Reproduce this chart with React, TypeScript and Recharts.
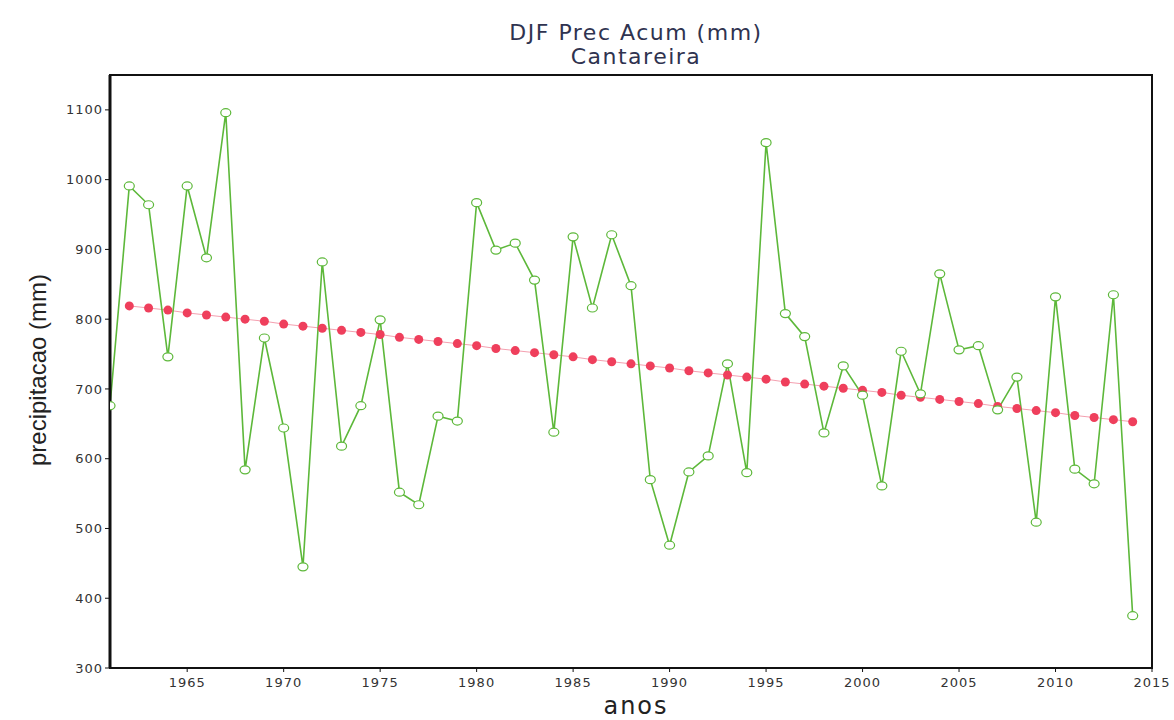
import { LineChart, Line, XAxis, YAxis, ReferenceArea } from "recharts";

const years = [
  1961, 1962, 1963, 1964, 1965, 1966, 1967, 1968, 1969, 1970,
  1971, 1972, 1973, 1974, 1975, 1976, 1977, 1978, 1979, 1980,
  1981, 1982, 1983, 1984, 1985, 1986, 1987, 1988, 1989, 1990,
  1991, 1992, 1993, 1994, 1995, 1996, 1997, 1998, 1999, 2000,
  2001, 2002, 2003, 2004, 2005, 2006, 2007, 2008, 2009, 2010,
  2011, 2012, 2013, 2014,
];

// DJF accumulated precipitation (mm)
const precip = [
  676, 991, 964, 746, 991, 888, 1096, 584, 773, 644,
  445, 882, 618, 676, 799, 552, 534, 661, 654, 967,
  899, 909, 856, 638, 918, 816, 921, 848, 570, 476,
  581, 604, 736, 580, 1053, 808, 775, 637, 733, 691,
  561, 754, 693, 865, 756, 762, 670, 717, 509, 832,
  585, 564, 835, 375,
];

// linear trend (no value for 1961)
const trend = [
  null, 819, 816, 813, 809, 806, 803, 800, 797, 793,
  790, 787, 784, 781, 778, 774, 771, 768, 765, 762,
  758, 755, 752, 749, 746, 742, 739, 736, 733, 730,
  726, 723, 720, 717, 714, 710, 707, 704, 701, 698,
  695, 691, 688, 685, 682, 679, 675, 672, 669, 666,
  662, 659, 656, 653,
];

const xTicks = [1965, 1970, 1975, 1980, 1985, 1990, 1995, 2000, 2005, 2010, 2015];
const yTicks = [300, 400, 500, 600, 700, 800, 900, 1000, 1100];

const data = years.map((year, i) => ({ year, precip: precip[i], trend: trend[i] }));

const GREEN = "#5db83a";
const RED = "#ef3f5c";

const HollowDot = (props: any) => {
  const { cx, cy, index } = props;
  if (cx == null || cy == null) return null;
  return (
    <ellipse
      key={`d-${index}`}
      cx={cx}
      cy={cy}
      rx={5}
      ry={4}
      fill="#fff"
      stroke={GREEN}
      strokeWidth={1.2}
    />
  );
};

const tickStyle = {
  fill: "#333",
  fontSize: 13,
  fontFamily: "DejaVu Sans, sans-serif",
  letterSpacing: 1,
};

export default function App() {
  return (
    <div style={{ position: "absolute", left: 0, top: 0, width: 1174, height: 720, background: "#fff" }}>
      <div
        style={{
          position: "absolute",
          left: 0,
          width: 1174,
          top: 21,
          textAlign: "center",
          fontFamily: "DejaVu Sans, sans-serif",
          fontSize: 22,
          lineHeight: "24px",
          letterSpacing: 1.5,
          color: "#2f3350",
        }}
      >
        <div style={{ paddingLeft: 98 }}>DJF Prec Acum (mm)</div>
        <div style={{ paddingLeft: 98 }}>Cantareira</div>
      </div>
      <div
        style={{
          position: "absolute",
          left: 38,
          top: 370,
          transform: "translate(-50%, -50%) rotate(-90deg)",
          whiteSpace: "nowrap",
          fontFamily: "Liberation Sans Narrow, Liberation Sans, sans-serif",
          fontSize: 24,
          color: "#222",
        }}
      >
        precipitacao (mm)
      </div>
      <div
        style={{
          position: "absolute",
          left: 0,
          width: 1174,
          paddingLeft: 98,
          boxSizing: "border-box",
          top: 694,
          textAlign: "center",
          fontFamily: "DejaVu Sans, sans-serif",
          fontSize: 24,
          lineHeight: "24px",
          letterSpacing: 2,
          color: "#222",
        }}
      >
        anos
      </div>
      <LineChart
        width={1174}
        height={720}
        data={data}
        margin={{ top: 75, right: 22, bottom: 22, left: 50 }}
      >
        <XAxis
          dataKey="year"
          type="number"
          domain={[1961, 2015]}
          ticks={xTicks}
          height={30}
          tick={{ ...tickStyle, dy: 4 }}
          tickSize={4}
          axisLine={{ stroke: "#111", strokeWidth: 2 }}
          tickLine={{ stroke: "#111" }}
          allowDataOverflow
        />
        <YAxis
          type="number"
          domain={[300, 1150]}
          ticks={yTicks}
          width={60}
          tick={tickStyle}
          tickSize={5}
          axisLine={{ stroke: "#111", strokeWidth: 3 }}
          tickLine={{ stroke: "#111" }}
          allowDataOverflow
        />
        <ReferenceArea
          x1={1961}
          x2={2015}
          y1={300}
          y2={1150}
          fill="none"
          stroke="#111"
          strokeWidth={2}
          ifOverflow="visible"
        />
        <Line
          dataKey="trend"
          stroke="#f4a0b0"
          strokeWidth={1}
          dot={{ r: 4.5, fill: RED, stroke: RED, strokeWidth: 0 }}
          activeDot={false}
          connectNulls
          isAnimationActive={false}
        />
        <Line
          dataKey="precip"
          stroke={GREEN}
          strokeWidth={1.6}
          dot={HollowDot}
          activeDot={false}
          isAnimationActive={false}
        />
      </LineChart>
    </div>
  );
}
